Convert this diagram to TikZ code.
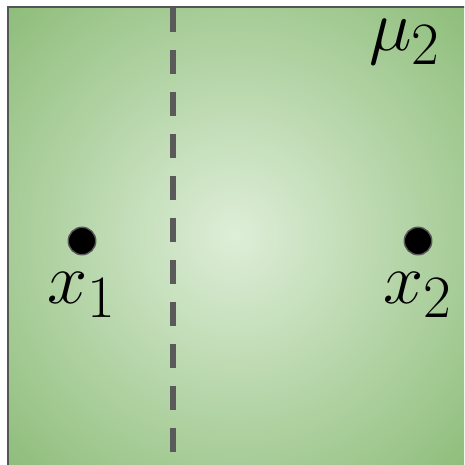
\documentclass[tikz,border=0pt]{standalone}
\usepackage{tikz}
\usetikzlibrary{positioning}
\definecolor{fieldOuter}{RGB}{140,188,120}
\definecolor{fieldInner}{RGB}{222,238,216}
\definecolor{edgeGray}{RGB}{85,85,85}
\definecolor{cutGray}{RGB}{90,90,90}
\pgfdeclareradialshading{fieldGlow}{\pgfpoint{-0.5bp}{0.5bp}}{%
  color(0bp)=(fieldInner); color(36bp)=(fieldOuter); color(50bp)=(fieldOuter)}

\begin{document}
\begin{tikzpicture}[
    x=0.02cm, y=-0.02cm,
    pt/.style={circle, fill=black, draw=black!65, line width=0.8pt,
               inner sep=0pt, minimum size=0.55cm},
    lbl/.style={font=\Huge, scale=1.65, inner sep=0pt},
    cut/.style={draw=cutGray, line width=0.13cm, dash pattern=on 0.48cm off 0.36cm}
  ]
  \useasboundingbox (0,0) rectangle (464,465);
  % shaded field
  \begin{scope}
    \clip (0,0) rectangle (464,465);
    \shade[shading=fieldGlow, draw=edgeGray, line width=0.04cm]
      (8,7) rectangle (470,472);
  \end{scope}
  % separating line
  \coordinate (cutTop) at (173,8);
  \coordinate (cutBot) at (173,465);
  \draw[cut] (cutTop) -- (cutBot);
  % points
  \node[pt] (p1) at (82,241) {};
  \node[pt] (p2) at (418,241) {};
  \node[lbl] (l1) at (82,295) {$x_1$};
  \node[lbl] (l2) at (418,295) {$x_2$};
  \node[lbl] (mu) at (405,42) {$\mu_2$};
\end{tikzpicture}
\end{document}
